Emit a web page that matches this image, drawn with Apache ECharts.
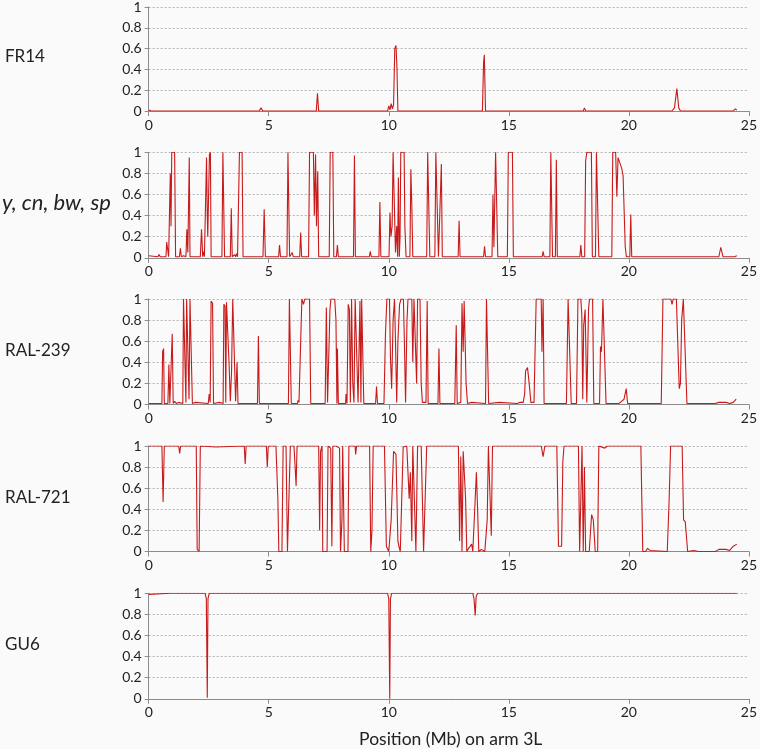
<!DOCTYPE html>
<html>
<head>
<meta charset="utf-8">
<script src="https://cdn.jsdelivr.net/npm/echarts@6/dist/echarts.min.js"></script>
<style>
html,body{margin:0;padding:0;background:#fafafa;}
#chart{width:760px;height:749px;}
</style>
</head>
<body>
<div id="chart"></div>
<script>
// Panel labels
var panelNames = ['FR14', 'y, cn, bw, sp', 'RAL-239', 'RAL-721', 'GU6'];
var xTicks = [0, 5, 10, 15, 20, 25];
var yTicks = [0, 0.2, 0.4, 0.6, 0.8, 1];
var xTitle = 'Position (Mb) on arm 3L';

// [position (Mb), value] pairs
var fr14 = [[0,0.01],[0.1,0],[4.6,0],[4.68,0.03],[4.75,0],[6.98,0],[7.03,0.17],[7.08,0],[7.5,0],[7.55,0.01],[7.6,0],[9.95,0],[10.0,0.05],[10.05,0.01],[10.1,0.07],[10.15,0.02],[10.2,0.06],[10.25,0.6],[10.3,0.63],[10.34,0.42],[10.38,0],[13.9,0],[13.95,0.47],[13.98,0.54],[14.03,0],[18.1,0],[18.15,0.03],[18.2,0],[21.8,0],[21.9,0.03],[22.0,0.215],[22.08,0.03],[22.15,0],[24.35,0],[24.43,0.02],[24.5,0.01]];

var ycnbwsp = [[0,0.02],[0.05,0.01],[0.38,0.01],[0.43,0.03],[0.48,0.01],
[0.72,0.01],[0.75,0.15],[0.8,0.15],[0.83,0.01],
[0.86,0.01],[0.9,0.8],[0.93,0.3],[0.96,1],[1.08,1],[1.12,0.01],
[1.28,0.01],[1.32,0.09],[1.36,0.01],[1.45,0.02],[1.5,0.01],
[1.55,0.01],[1.59,0.27],[1.63,0.05],[1.69,0.95],[1.72,0.01],
[2.15,0.01],[2.2,0.27],[2.25,0.01],[2.28,0.06],[2.32,0.01],
[2.37,0.01],[2.41,0.95],[2.44,0.4],[2.46,0.2],[2.49,0.2],[2.53,0.98],[2.57,1],[2.6,0.01],
[3.05,0.01],[3.09,1],[3.13,1],[3.16,0.01],
[3.4,0.01],[3.44,0.47],[3.48,0.01],[3.58,0.03],[3.62,0.01],[3.66,0.04],[3.7,0.01],
[3.74,0.01],[3.78,1],[3.89,1],[3.93,0.01],
[4.76,0.01],[4.81,0.46],[4.86,0.01],
[5.41,0.01],[5.45,0.12],[5.49,0.01],
[5.76,0.01],[5.8,1],[5.84,1],[5.87,0.01],[5.95,0.01],[5.98,0.05],[6.02,0.01],
[6.29,0.01],[6.33,0.24],[6.37,0.01],
[6.66,0.01],[6.7,1],[6.86,1],[6.9,0.4],[6.95,0.98],[6.99,0.3],[7.04,0.82],[7.08,0.01],
[7.52,0.01],[7.56,1],[7.67,1],[7.71,0.01],[7.82,0.01],[7.86,0.12],[7.9,0.01],
[8.53,0.01],[8.57,0.97],[8.61,0.01],
[9.19,0.01],[9.23,0.06],[9.27,0.01],
[9.59,0.01],[9.63,0.53],[9.67,0.01],
[10.01,0.01],[10.05,0.43],[10.09,0.2],[10.14,0.3],[10.18,1],[10.24,1],[10.28,0.05],[10.33,0.3],[10.37,0.01],[10.4,0.76],[10.44,0.01],
[10.47,0.2],[10.5,1],[10.64,1],[10.67,0.3],[10.72,0.01],
[10.88,0.01],[10.92,0.84],[10.96,0.5],[11.0,0.01],
[11.58,0.01],[11.62,1],[11.67,1],[11.71,0.01],
[11.92,0.01],[11.96,1],[12.03,1],[12.07,0.01],[12.15,0.01],[12.19,0.89],[12.23,0.01],
[12.89,0.01],[12.93,0.35],[12.97,0.01],
[13.95,0.01],[13.99,0.11],[14.03,0.01],
[14.3,0.01],[14.34,0.6],[14.38,0.1],[14.45,1],[14.5,1],[14.54,0.01],
[14.94,0.01],[14.98,1],[15.15,1],[15.19,0.01],
[15.76,0.01],[15.8,0.02],[15.84,0.01],
[16.39,0.01],[16.43,0.06],[16.47,0.01],
[16.71,0.01],[16.75,1],[16.78,1],[16.82,0.01],[16.94,0.01],[16.98,0.93],[17.02,0.01],
[17.96,0.01],[18.0,0.12],[18.04,0.01],
[18.16,0.01],[18.2,0.92],[18.25,1],[18.44,1],[18.48,0.01],
[18.61,0.01],[18.65,1],[18.71,1],[18.75,0.01],
[19.29,0.01],[19.33,1],[19.45,1],[19.5,0.58],[19.55,0.95],[19.62,0.95],[19.7,0.85],[19.76,0.78],[19.85,0.1],[19.9,0.01],
[20.04,0.01],[20.08,0.41],[20.12,0.01],
[20.84,0.01],[20.88,0.02],[20.92,0.01],
[23.75,0.01],[23.83,0.1],[23.92,0.01],
[24.4,0.01],[24.45,0.02],[24.5,0.02]];

var ral239 = [[0,0.01],[0.55,0.01],[0.58,0.5],[0.62,0.53],[0.65,0.01],
[0.8,0.01],[0.84,0.38],[0.88,0.01],
[0.94,0.01],[0.98,0.67],[1.02,0.01],
[1.08,0.03],[1.15,0.01],[1.25,0.02],[1.3,0.01],
[1.42,0.01],[1.45,1],[1.52,1],[1.55,0.02],[1.58,1],[1.65,1],[1.68,0.05],[1.72,1],[1.78,1],[1.82,0.01],
[1.95,0.02],[2.0,0.01],
[2.48,0.01],[2.52,0.1],[2.56,0.02],[2.6,0.98],[2.66,0.96],[2.7,0.01],
[2.95,0.02],[3.0,0.01],
[3.1,0.01],[3.13,0.95],[3.18,0.93],[3.21,0.02],[3.24,0.97],[3.3,0.97],[3.35,0.37],[3.4,0.03],[3.45,0.3],[3.5,1],[3.58,1],[3.62,0.03],[3.68,0.4],[3.72,0.01],
[4.53,0.01],[4.57,0.65],[4.61,0.01],
[4.96,0.01],[4.99,0.02],[5.02,0.01],
[5.82,0.01],[5.86,1],[5.9,1],[5.94,0.01],
[6.2,0.01],[6.22,0.04],[6.26,0.02],[6.34,0.02],[6.38,1],[6.45,0.95],[6.5,1],[6.7,1],[6.75,0.01],
[7.35,0.01],[7.4,0.92],[7.45,0.02],[7.55,0.9],[7.59,1],[7.75,1],[7.8,0.8],[7.84,0.01],[7.86,0.53],[7.9,0.01],
[8.2,0.01],[8.22,0.1],[8.26,0.01],[8.31,0.95],[8.36,0.9],[8.4,0.02],[8.45,1],[8.5,0.2],[8.55,0.02],[8.6,1],[8.68,1],[8.72,0.02],[8.8,0.98],[8.84,0.02],[8.87,1],[8.92,1],[8.96,0.01],
[9.45,0.01],[9.49,0.17],[9.53,0.01],
[9.8,0.01],[9.86,0.65],[9.92,1],[10.03,1],[10.07,0.45],[10.12,0.15],[10.18,0.8],[10.24,1],[10.28,0.6],[10.33,0.02],[10.38,0.6],[10.45,0.95],[10.51,1],[10.61,1],[10.65,0.6],[10.7,0.02],[10.76,0.8],[10.8,1],[10.96,1],[11.0,0.4],[11.05,1],[11.12,1],[11.16,0.2],[11.2,1],[11.3,1],[11.35,0.2],[11.4,0.02],[11.55,0.02],[11.6,0.98],[11.64,0.01],
[12.05,0.01],[12.09,0.53],[12.13,0.01],
[12.65,0.01],[12.7,0.02],[12.75,0.01],
[12.77,0.01],[12.81,0.75],[12.85,0.01],[13.0,0.02],[13.05,0.96],[13.1,0.5],[13.14,0.98],[13.18,0.6],[13.22,0.2],[13.28,0.01],
[13.45,0.02],[13.5,0.01],
[14.03,0.01],[14.07,1],[14.12,1],[14.16,0.01],
[14.6,0.02],[14.65,0.01],[15.35,0.01],[15.45,0.02],[15.6,0.02],
[15.66,0.1],[15.7,0.32],[15.78,0.35],[15.87,0.15],[15.92,0.02],
[16.05,0.02],[16.14,1],[16.35,1],[16.38,0.5],[16.43,1],[16.47,0.01],
[17.4,0.01],[17.47,1],[17.55,1],[17.6,0.01],
[17.82,0.01],[17.88,1],[18.0,1],[18.04,0.85],[18.08,0.05],[18.12,0.75],[18.18,0.9],[18.25,0.02],[18.32,0.9],[18.36,1],[18.49,1],[18.54,0.01],
[18.78,0.01],[18.82,0.55],[18.86,0.5],[18.92,1],[19.0,1],[19.05,0.01],
[19.6,0.01],[19.7,0.03],[19.8,0.05],[19.89,0.15],[19.95,0.01],
[21.35,0.01],[21.42,1],[21.75,1],[21.8,0.95],[21.85,1],[21.98,1],[22.05,0.5],[22.1,0.15],[22.15,0.2],[22.2,0.8],[22.27,1],[22.35,1],[22.42,0.01],
[23.6,0.01],[23.75,0.02],[24.05,0.02],[24.2,0.01],[24.35,0.02],[24.47,0.05]];

var ral721 = [[0,1],[0.55,1],[0.6,0.47],[0.65,1],[1.25,1],[1.29,0.93],[1.33,1],[1.98,1],[2.02,0.02],[2.1,0],[2.15,1],[2.8,0.99],[2.85,1],[3.98,1],[4.02,0.83],[4.06,1],[4.9,1],[4.94,0.8],[4.98,1],
[5.3,1],[5.38,0.5],[5.42,0],[5.55,0],[5.6,1],[5.72,1],[5.78,0],[5.85,0],[5.9,1],[6.05,1],[6.1,0.8],[6.14,0.62],[6.18,1],
[7.08,1],[7.12,0.2],[7.16,0.95],[7.22,1],[7.25,0],[7.43,0],[7.47,1],[7.55,1],[7.58,0.98],[7.63,0.05],[7.67,1],[7.8,1],[7.95,0.98],[7.99,0],[8.05,0.3],[8.08,1],[8.12,1],[8.15,0],[8.3,0],[8.34,1],[8.6,1],[8.62,0.92],[8.66,1],[9.2,1],[9.25,0],[9.3,0.2],[9.35,1],
[9.82,1],[9.9,0.05],[10.0,0],[10.1,0.3],[10.2,0.95],[10.3,0.92],[10.38,0.1],[10.42,0.05],[10.48,0],[10.6,0.99],[10.65,1],[10.75,1],[10.8,0.75],[10.85,0.5],[10.9,0.75],[10.96,0.1],[11.0,1],[11.05,1],[11.13,0],[11.2,1],[11.35,1],[11.45,0],[11.53,0],[11.58,1],
[12.9,1],[12.95,0.1],[13.0,0.9],[13.05,0],[13.1,0.95],[13.15,0.95],[13.2,0.5],[13.25,0],[13.3,0.02],[13.45,0.07],[13.5,0],[13.6,0.5],[13.65,0.75],[13.7,0.4],[13.75,0],[13.85,0.02],[14.0,0],[14.1,0.3],[14.15,1],[14.2,1],[14.27,0.15],[14.32,1],
[16.35,1],[16.43,0.9],[16.5,1],[17.0,1],[17.07,0.05],[17.2,0.05],[17.25,0.85],[17.3,1],[17.9,1],[17.95,0],[18.0,0],[18.05,1],[18.1,0],[18.15,0.8],[18.2,0],[18.35,0],[18.45,0.35],[18.52,0.3],[18.6,0],[18.7,0],[18.75,1],[19.0,0.98],[19.1,1],
[20.5,1],[20.58,0],[20.7,0],[20.78,0.03],[20.88,0.01],[21.6,0],[21.68,0.5],[21.74,1],[22.22,1],[22.28,0.3],[22.35,0.28],[22.45,0],[22.7,0.01],[22.9,0],[23.6,0],[23.75,0.02],[24.05,0.02],[24.2,0.01],[24.35,0.05],[24.5,0.07]];

var gu6 = [[0,0.99],[0.05,1],[0.9,1],[0.95,0.99],[1.0,1],[2.35,1],[2.4,0.95],[2.44,0.01],[2.47,0.95],[2.52,1],[9.95,1],[10.0,0.95],[10.04,0],[10.07,0.95],[10.12,1],[13.5,1],[13.55,0.95],[13.6,0.79],[13.64,0.97],[13.7,1],[20.8,1],[20.85,0.99],[20.9,1],[23.9,1],[23.97,0.99],[24.05,1],[24.5,1]];

var panelData = [fr14, ycnbwsp, ral239, ral721, gu6];

var FONT = 'Lato, "Open Sans", sans-serif';
var tops = [5.5, 152.3, 299, 446, 593.3];
var H = 105.5;
var LEFT = 148.7, RIGHT = 7.3, W = 760 - LEFT - RIGHT;

var grids = [], xAxes = [], yAxes = [], series = [], graphics = [];
for (var i = 0; i < 5; i++) {
  grids.push({left: LEFT, right: RIGHT, top: tops[i], height: H, containLabel: false});
  xAxes.push({
    type: 'value', gridIndex: i, min: xTicks[0], max: xTicks[xTicks.length - 1], interval: 5,
    axisLine: {show: true, lineStyle: {color: '#8c8c8c', width: 1}},
    axisTick: {show: true, length: 5, lineStyle: {color: '#8c8c8c'}},
    axisLabel: {color: '#222', fontSize: 14, fontFamily: FONT, margin: 7},
    splitLine: {show: false}
  });
  yAxes.push({
    type: 'value', gridIndex: i, min: 0, max: 1, interval: 0.2,
    axisLine: {show: true, lineStyle: {color: '#8c8c8c', width: 1}},
    axisTick: {show: true, length: 4, lineStyle: {color: '#8c8c8c'}},
    axisLabel: {color: '#222', fontSize: 14, fontFamily: FONT, margin: 7},
    splitLine: {show: true, lineStyle: {color: '#b4b4b4', type: [2, 2], width: 1}}
  });
  series.push({
    type: 'line', xAxisIndex: i, yAxisIndex: i, data: panelData[i],
    showSymbol: false, symbol: 'none', animation: false, silent: true,
    lineStyle: {color: '#c81a1a', width: 1.1}, z: 3
  });
  var isItalic = (i === 1);
  graphics.push({
    type: 'text', left: isItalic ? 2 : 5, top: tops[i] + H / 2 - (isItalic ? 13 : 10),
    style: {
      text: panelNames[i], fill: '#222', font: (isItalic ? 'italic 22px ' : '17px ') + FONT
    }
  });
}
graphics.push({
  type: 'text', x: LEFT + W / 2, y: 739,
  style: {text: xTitle, fill: '#222', font: '17.5px ' + FONT, align: 'center', verticalAlign: 'middle'}
});

var chart = echarts.init(document.getElementById('chart'), null, {renderer: 'canvas'});
chart.setOption({
  backgroundColor: '#fafafa',
  animation: false,
  grid: grids, xAxis: xAxes, yAxis: yAxes, series: series, graphic: graphics
});
</script>
</body>
</html>
